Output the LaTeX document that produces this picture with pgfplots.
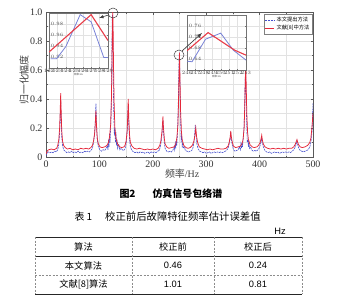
\documentclass[border=0pt]{standalone}
\usepackage{pgfplots}
\pgfplotsset{compat=1.18}
\usepackage{fontspec}
\setmainfont{Liberation Serif}
\newfontfamily\cjk{Noto Sans CJK SC}
\newfontfamily\arial{Liberation Sans}
\definecolor{myblue}{RGB}{70,80,205}
\definecolor{myred}{RGB}{228,40,58}
\definecolor{gridc}{RGB}{226,226,226}
\definecolor{iblue}{RGB}{120,130,215}
\definecolor{ired}{RGB}{232,60,72}

\pgfplotstableread{
x y
0 0.01
1 0.02
3 0.03
5 0.035
8 0.03
10 0.035
13 0.03
16 0.04
19 0.035
22 0.05
24 0.09
25.5 0.17
26.5 0.27
27.5 0.38
28.5 0.25
29.5 0.14
31 0.08
33 0.05
36 0.04
39 0.03
42 0.035
45 0.03
48 0.04
51 0.03
54 0.035
57 0.03
60 0.04
63 0.03
66 0.035
69 0.03
72 0.04
75 0.035
78 0.04
81 0.035
84 0.045
87 0.06
89 0.10
91 0.16
92.5 0.26
93.5 0.37
94.5 0.24
96 0.12
98 0.07
101 0.05
104 0.04
107 0.05
110 0.045
113 0.06
115 0.08
116 0.05
117 0.12
118 0.07
119 0.16
120 0.10
121 0.20
122 0.30
123 0.55
124 0.95
124.5 0.98
125 0.90
125.5 0.75
126 0.50
127 0.30
128 0.15
129 0.20
130 0.10
131 0.17
132 0.08
133 0.12
134 0.06
136 0.09
138 0.05
141 0.06
144 0.045
147 0.05
149 0.07
151 0.12
152.5 0.22
153.5 0.32
154 0.35
155 0.22
156.5 0.12
158 0.07
161 0.045
164 0.035
167 0.03
170 0.035
173 0.025
176 0.035
179 0.03
182 0.035
185 0.025
188 0.03
191 0.035
194 0.025
197 0.035
200 0.03
203 0.035
206 0.03
209 0.04
212 0.045
214 0.07
216 0.11
217.5 0.17
219 0.25
220 0.18
221.5 0.10
223 0.06
226 0.04
229 0.035
232 0.04
235 0.035
238 0.05
240 0.07
241 0.05
242 0.09
243 0.06
244 0.11
245 0.08
246 0.15
247 0.25
248 0.42
249 0.62
249.7 0.72
250.5 0.60
251.5 0.38
252.5 0.20
253 0.12
254 0.14
255 0.08
256 0.10
257 0.06
259 0.07
261 0.045
264 0.04
267 0.035
270 0.04
273 0.045
275 0.06
277 0.10
278.5 0.16
279.5 0.22
281 0.15
282.5 0.09
285 0.055
288 0.04
291 0.035
294 0.03
297 0.035
300 0.025
303 0.03
306 0.035
309 0.025
312 0.03
315 0.035
318 0.03
321 0.035
324 0.03
327 0.035
330 0.03
333 0.035
336 0.04
339 0.05
341 0.06
343 0.09
345 0.13
346 0.16
347 0.12
349 0.08
351 0.05
354 0.04
357 0.045
360 0.05
362 0.07
364 0.05
365 0.09
366 0.06
367 0.10
368 0.07
369 0.12
370 0.15
371 0.22
372 0.35
373 0.52
373.7 0.60
374.5 0.45
375.5 0.28
376.5 0.15
377 0.10
378 0.12
379 0.07
380 0.10
381 0.06
383 0.07
385 0.05
388 0.04
391 0.045
394 0.04
397 0.05
399 0.06
401 0.08
403 0.11
404 0.13
405 0.10
407 0.07
410 0.045
413 0.035
416 0.03
419 0.035
422 0.025
425 0.03
428 0.035
431 0.03
434 0.035
437 0.025
440 0.03
443 0.035
446 0.03
449 0.035
452 0.03
455 0.035
458 0.03
461 0.04
464 0.05
467 0.07
469 0.095
470 0.11
471 0.09
473 0.065
476 0.045
479 0.04
482 0.035
485 0.04
488 0.045
491 0.05
494 0.07
496 0.10
498 0.17
499 0.26
500 0.37
}\bluedata

\pgfplotstableread{
x y
0 0.02
1 0.03
3 0.045
5 0.05
10 0.055
15 0.05
20 0.06
22 0.08
24 0.12
25.5 0.20
26.5 0.30
27.5 0.44
28.5 0.30
29.5 0.18
31 0.11
33 0.08
36 0.065
40 0.055
45 0.06
50 0.05
55 0.055
60 0.05
65 0.06
70 0.055
75 0.06
80 0.055
84 0.065
87 0.08
89 0.11
91 0.16
92.5 0.24
93.5 0.32
94.5 0.22
96 0.13
98 0.09
101 0.07
105 0.065
110 0.07
114 0.08
117 0.10
119 0.14
121 0.22
122.5 0.40
123.5 0.65
124.5 0.92
125 1.00
125.5 0.93
126.5 0.62
127.5 0.38
129 0.20
131 0.13
134 0.09
138 0.07
142 0.065
146 0.07
148 0.08
150 0.11
152 0.18
153 0.28
154 0.40
155 0.27
156.5 0.15
158 0.10
161 0.075
165 0.06
170 0.055
175 0.06
180 0.055
185 0.05
190 0.055
195 0.05
200 0.055
205 0.05
210 0.06
213 0.08
215 0.11
217 0.17
218 0.22
219 0.28
220 0.20
221.5 0.13
223 0.09
226 0.07
230 0.06
235 0.065
240 0.07
243 0.09
245 0.13
247 0.22
248 0.35
249 0.55
250 0.72
251 0.52
252 0.32
253.5 0.18
255 0.12
258 0.08
262 0.065
266 0.06
270 0.065
274 0.08
277 0.11
279 0.15
280.5 0.20
282 0.14
284 0.10
287 0.07
292 0.06
297 0.055
302 0.05
307 0.055
312 0.05
317 0.055
322 0.06
327 0.055
332 0.055
337 0.06
341 0.075
343 0.10
345 0.14
346 0.18
347 0.14
349 0.10
351 0.075
355 0.065
360 0.07
364 0.075
367 0.09
369 0.12
371 0.20
372 0.32
373 0.50
374 0.65
375 0.48
376 0.30
377.5 0.17
379 0.12
382 0.085
386 0.07
390 0.065
395 0.07
398 0.08
401 0.10
403 0.13
404 0.15
405 0.12
407 0.09
410 0.07
415 0.06
420 0.055
425 0.06
430 0.055
435 0.06
440 0.055
445 0.06
450 0.055
455 0.06
460 0.06
464 0.07
467 0.09
469 0.11
470 0.12
471 0.105
473 0.085
476 0.07
480 0.065
485 0.07
490 0.08
494 0.10
496 0.13
498 0.20
499 0.25
500 0.30
}\reddata

\begin{document}
\begin{tikzpicture}
\path[use as bounding box] (0,0) rectangle (344bp,-299bp);

\begin{axis}[
  at={(46bp,-157bp)}, anchor=south west, scale only axis,
  width=267bp, height=145bp,
  xmin=0, xmax=500, ymin=0, ymax=1,
  xtick={0,100,...,500}, minor xtick={50,150,...,450},
  ytick={0,0.2,0.4,0.6,0.8,1.0}, yticklabels={0,0.2,0.4,0.6,0.8,1.0},
  minor ytick={0.1,0.3,0.5,0.7,0.9},
  grid=both, grid style={gridc, line width=0.4pt}, minor grid style={gridc, line width=0.4pt},
  axis line style={black!65, line width=0.5pt},
  tick style={black!65, line width=0.4pt}, major tick length=2.5bp, minor tick length=1.5bp,
  tick align=inside,
  ticklabel style={font=\fontsize{10}{10}\selectfont, text=black!80},
  /pgf/number format/assume math mode=true,
  xlabel={{\cjk 频率}/Hz},
  xlabel style={font=\fontsize{10}{10}\selectfont, text=black!75, at={(axis description cs:0.51,0)}, anchor=center, yshift=-17bp},
  legend style={at={(0.997,0.985)}, anchor=north east, draw=black!50, line width=0.3pt,
    font=\cjk\fontsize{5.3}{5.8}\selectfont, inner sep=0.6bp, row sep=-1.5bp,
    legend cell align=left, fill=white},
  legend image code/.code={\draw[#1] (0bp,0bp) -- (9bp,0bp);},
]
\addplot[myblue, line width=0.6pt, dash pattern=on 2bp off 0.8bp] table[x=x,y=y]{\bluedata};
\addlegendentry{本文提出方法}
\addplot[myred, line width=0.75pt] table[x=x,y=y]{\reddata};
\addlegendentry{文献[8]中方法}
\end{axis}

\node[rotate=90, font=\cjk\fontsize{10}{10}\selectfont, text=black!75] at (24bp,-80bp) {归一化幅度};

% inset 1
\begin{axis}[
  at={(49bp,-68bp)}, anchor=south west, scale only axis,
  width=59bp, height=55bp,
  xmin=122, xmax=129, ymin=0.9, ymax=1.0,
  xtick={122,...,129}, ytick={0.92,0.94,...,0.98},
  grid=major, grid style={gridc, line width=0.3pt},
  axis background/.style={fill=white},
  axis line style={black!55, line width=0.35pt},
  tick style={black!55, line width=0.3pt}, major tick length=1bp,
  tick align=inside,
  ticklabel style={font=\fontsize{2.6}{3}\selectfont, text=black!70, inner sep=0.6bp},
  yticklabel style={anchor=west, xshift=1bp, /pgf/number format/.cd, fixed, precision=2, fixed zerofill},
  xlabel={{\cjk 频率}/Hz},
  xlabel style={font=\fontsize{2.6}{3}\selectfont, text=black!70, inner sep=0.3bp},
]
\addplot[iblue, line width=0.8pt] coordinates {(122.2,0.917) (122.9,0.917) (124,0.939) (125.7,0.997) (127,0.984) (128.5,0.919) (129,0.919)};
\addplot[ired, line width=1.1pt] coordinates {(122,0.929) (127,0.997) (129,0.950)};
\end{axis}

% inset 2
\begin{axis}[
  at={(187bp,-70bp)}, anchor=south west, scale only axis,
  width=59bp, height=55bp,
  xmin=246, xmax=253, ymin=0.6, ymax=0.8,
  xtick={246,...,253}, ytick={0.64,0.68,...,0.76},
  grid=major, grid style={gridc, line width=0.3pt},
  axis background/.style={fill=white},
  axis line style={black!55, line width=0.35pt},
  tick style={black!55, line width=0.3pt}, major tick length=1bp,
  tick align=inside,
  ticklabel style={font=\fontsize{2.6}{3}\selectfont, text=black!70, inner sep=0.6bp},
  yticklabel style={anchor=west, xshift=1bp, /pgf/number format/.cd, fixed, precision=2, fixed zerofill},
  xlabel={{\cjk 频率}/Hz},
  xlabel style={font=\fontsize{2.6}{3}\selectfont, text=black!70, inner sep=0.3bp},
]
\addplot[iblue, line width=0.8pt] coordinates {(246,0.632) (246.6,0.630) (248.2,0.712) (250,0.734) (251.5,0.672) (253,0.636)};
\addplot[ired, line width=1.1pt] coordinates {(246,0.670) (248.5,0.736) (251.66,0.672) (253,0.654)};
\end{axis}

% annotations
\draw[black!75, line width=0.5pt] (113bp,-13bp) circle (5bp);
\draw[black!75, line width=0.6pt, -latex] (108.5bp,-15bp) -- (99bp,-18bp);
\draw[black!75, line width=0.5pt] (179bp,-55bp) circle (5bp);
\draw[black!75, line width=0.7pt, -latex] (182bp,-51bp) -- (202bp,-33bp);

% caption
\node[anchor=west, font=\cjk\bfseries\fontsize{10}{10}\selectfont] at (116bp,-194bp) {图2};
\node[anchor=west, font=\cjk\bfseries\fontsize{10}{10}\selectfont] at (149bp,-194bp) {仿真信号包络谱};
\node[anchor=west, font=\cjk\fontsize{10}{10}\selectfont] at (71bp,-216.5bp) {表 1};
\node[anchor=west, font=\cjk\fontsize{10.4}{10}\selectfont, inner sep=0pt] at (105bp,-216.5bp) {校正前后故障特征频率估计误差值};
\node[font=\arial\fontsize{9.3}{10}\selectfont] at (280bp,-231bp) {Hz};

% table
\draw[black!85, line width=0.8pt] (35bp,-237bp) -- (302bp,-237bp);
\draw[black!85, line width=0.6pt] (35bp,-256bp) -- (302bp,-256bp);
\draw[black!45, line width=0.5pt, dash pattern=on 2bp off 1.5bp] (35bp,-275bp) -- (302bp,-275bp);
\draw[black!85, line width=0.8pt] (35bp,-294bp) -- (302bp,-294bp);
\foreach \xx in {35,132,214,302}{
  \draw[black!45, line width=0.5pt, dash pattern=on 2bp off 1.5bp] (\xx bp,-237bp) -- (\xx bp,-294bp);
}
\node[font=\cjk\fontsize{9.3}{10}\selectfont] at (83.5bp,-246.5bp) {算法};
\node[font=\cjk\fontsize{9.3}{10}\selectfont] at (173bp,-246.5bp) {校正前};
\node[font=\cjk\fontsize{9.3}{10}\selectfont] at (258bp,-246.5bp) {校正后};
\node[font=\cjk\fontsize{9.3}{10}\selectfont] at (83.5bp,-265.5bp) {本文算法};
\node[font=\arial\fontsize{9.3}{10}\selectfont] at (173bp,-265.5bp) {0.46};
\node[font=\arial\fontsize{9.3}{10}\selectfont] at (258bp,-265.5bp) {0.24};
\node[font=\cjk\fontsize{9.3}{10}\selectfont] at (83.5bp,-284.5bp) {文献[8]算法};
\node[font=\arial\fontsize{9.3}{10}\selectfont] at (173bp,-284.5bp) {1.01};
\node[font=\arial\fontsize{9.3}{10}\selectfont] at (258bp,-284.5bp) {0.81};
\end{tikzpicture}
\end{document}
